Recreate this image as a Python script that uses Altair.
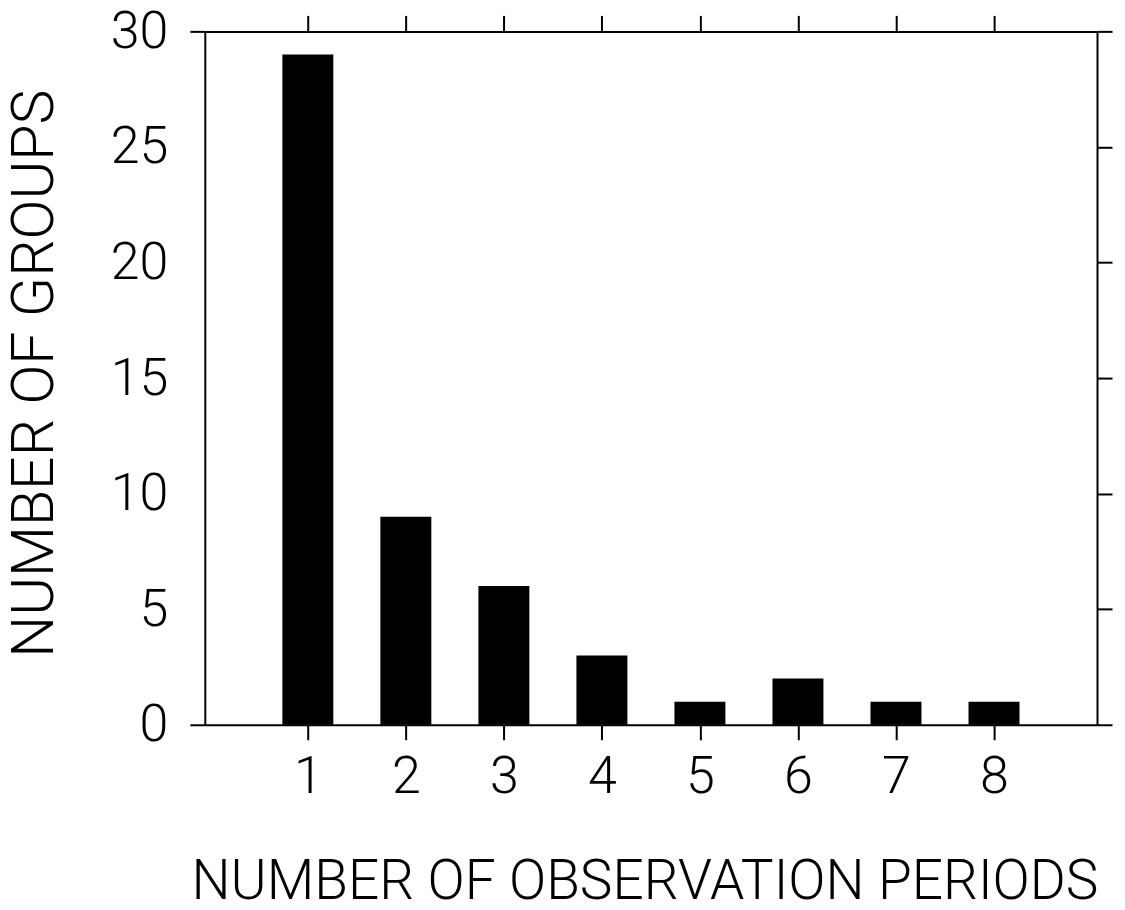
import altair as alt
import pandas as pd

periods = [1, 2, 3, 4, 5, 6, 7, 8]
groups = [29, 9, 6, 3, 1, 2, 1, 1]
y_ticks = [0, 5, 10, 15, 20, 25, 30]

df = pd.DataFrame({"period": periods, "groups": groups})

FONT = "Roboto"
W, H = 893, 694

xscale = alt.Scale(domain=[0, 9], nice=False, zero=False)
yscale = alt.Scale(domain=[0, 30], nice=False)

bars = alt.Chart(df).mark_bar(color="black", size=51, clip=False).encode(
    x=alt.X("period:Q", scale=xscale,
            axis=alt.Axis(orient="bottom", values=periods, format="d",
                          title="NUMBER OF OBSERVATION PERIODS",
                          titleX=440, titleY=174, titleBaseline="alphabetic",
                          titleAnchor="middle", titleAlign="center",
                          titleFontSize=55, titleFont=FONT, titleFontWeight=300,
                          titleColor="black",
                          labelFontSize=52, labelFont=FONT, labelFontWeight=300,
                          labelColor="black", labelPadding=12,
                          tickSize=15, tickWidth=2, tickColor="black",
                          domainWidth=2, domainColor="black", grid=False)),
    y=alt.Y("groups:Q", scale=yscale,
            axis=alt.Axis(orient="left", values=y_ticks,
                          title="NUMBER OF GROUPS",
                          titleX=-152, titleY=342, titleBaseline="alphabetic",
                          titleAngle=270, titleAlign="center",
                          titleFontSize=59, titleFont=FONT, titleFontWeight=300,
                          titleColor="black",
                          labelFontSize=52, labelFont=FONT, labelFontWeight=300,
                          labelColor="black", labelPadding=22,
                          tickSize=15, tickWidth=2, tickColor="black",
                          tickOpacity={"condition": {"test": "datum.value == 0 || datum.value == 30", "value": 1}, "value": 0},
                          domainWidth=2, domainColor="black", grid=False)),
)

frame = alt.Chart(df).mark_bar(opacity=0, size=1).encode(
    x=alt.X("period:Q", scale=xscale,
            axis=alt.Axis(orient="top", values=periods, labels=False, title=None,
                          tickSize=16, tickWidth=2, tickColor="black",
                          domainWidth=2, domainColor="black", grid=False)),
    y=alt.Y("groups:Q", scale=yscale,
            axis=alt.Axis(orient="right", values=y_ticks, labels=False, title=None,
                          tickSize=15, tickWidth=2, tickColor="black",
                          domainWidth=2, domainColor="black", grid=False)),
)

chart = alt.layer(bars, frame).resolve_axis(x="independent", y="independent").properties(
    width=W, height=H,
    autosize=alt.AutoSizeParams(type="none"),
    padding={"left": 197, "top": 23, "right": 20, "bottom": 185},
    background="white",
).configure_view(stroke=None)

chart.save("out.html", embed_options={"renderer": "svg", "actions": False})
